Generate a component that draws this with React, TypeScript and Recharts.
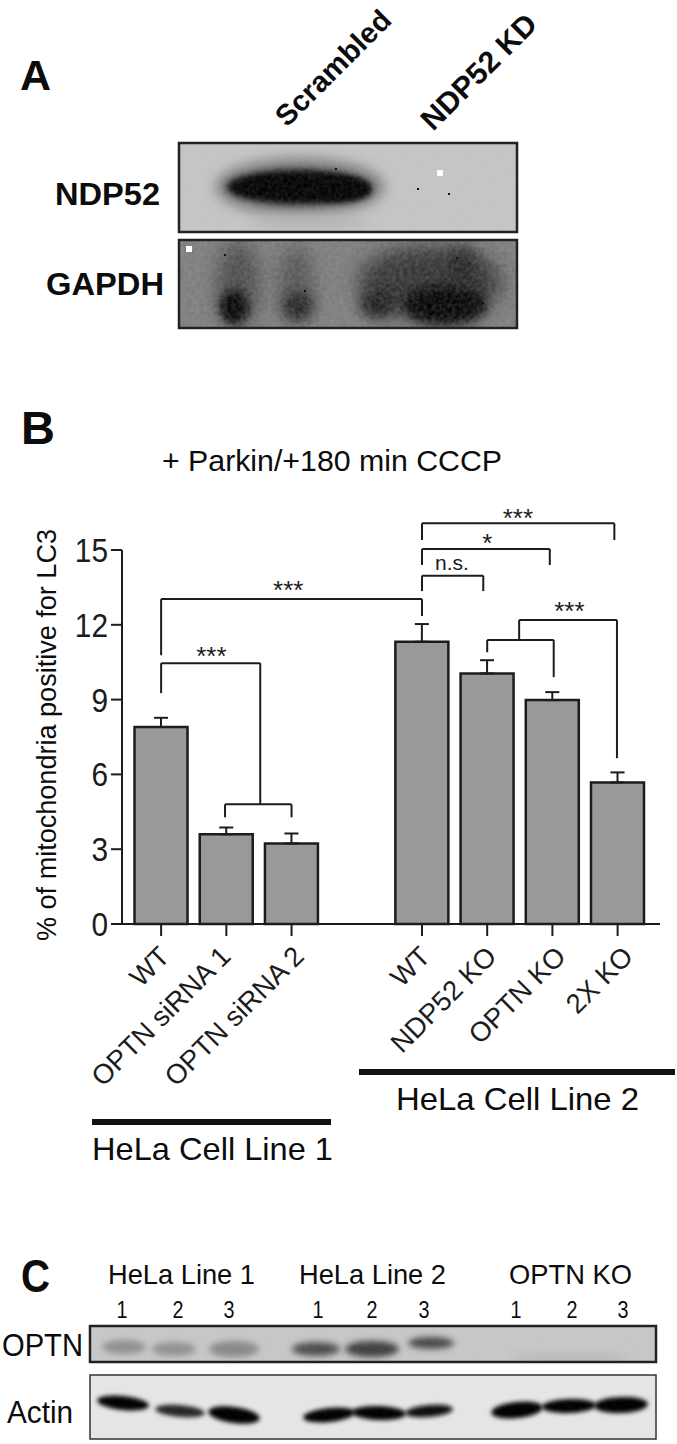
import React from 'react';
import { BarChart, Bar, XAxis, YAxis, ErrorBar, ReferenceLine, ReferenceDot } from 'recharts';

const FONT = '"Liberation Sans", Arial, sans-serif';
const INK = '#1c1c1c';

// bar chart values
const positions = [0, 1, 2, 4, 5, 6, 7];
const labels = ['WT', 'OPTN siRNA 1', 'OPTN siRNA 2', 'WT', 'NDP52 KO', 'OPTN KO', '2X KO'];
const means = [7.9, 3.6, 3.23, 11.32, 10.05, 8.98, 5.68];
const errors = [0.37, 0.27, 0.4, 0.71, 0.53, 0.32, 0.4];
const yTicks = [0, 3, 6, 9, 12, 15];

// significance brackets as [position, value] paths
const brackets: [number, number][][] = [
  [[0, 10.78], [0, 13.03], [4, 13.03], [4, 12.35]],
  [[0, 9.26], [0, 10.46], [1.52, 10.46], [1.52, 4.8]],
  [[0.98, 4.28], [0.98, 4.8], [2, 4.8], [2, 4.28]],
  [[4, 13.35], [4, 13.97], [4.94, 13.97], [4.94, 13.35]],
  [[4, 14.4], [4, 15.04], [5.96, 15.04], [5.96, 14.4]],
  [[4, 15.4], [4, 16.07], [6.95, 16.07], [6.95, 15.4]],
  [[5, 10.9], [5, 11.39], [6.02, 11.39], [6.02, 9.9]],
  [[5.49, 11.39], [5.49, 12.19], [6.99, 12.19], [6.99, 6.65]],
];

const marks: [number, number, string][] = [
  [1.95, 13.4, '***'],
  [0.77, 10.75, '***'],
  [5.47, 16.3, '***'],
  [5.0, 15.3, '*'],
  [4.46, 14.5, 'n.s.'],
  [6.26, 12.55, '***'],
];

const chartData = positions.map((pos, i) => ({
  pos,
  mean: means[i],
  err: [0, errors[i]],
}));

// the rotated labels do not all end at the same distance from their tick
const labelShift = [10, 6, 14, 10, 11, 15, 17];

const XTick = ({ x, y, payload }: any) => {
  const i = positions.indexOf(payload.value);
  const px = x + labelShift[i];
  const py = y + 20;
  return (
    <text
      x={px}
      y={py}
      textAnchor="end"
      fontSize={27.5}
      fontFamily={FONT}
      fill={INK}
      transform={`rotate(-45 ${px} ${py})`}
    >
      {labels[i]}
    </text>
  );
};

const YTick = ({ x, y, payload }: any) => {
  const s = String(payload.value);
  return (
    <text
      x={x}
      y={y}
      dy={12}
      textAnchor="end"
      fontSize={33}
      fontFamily={FONT}
      fill={INK}
      textLength={s.length * 16.6}
      lengthAdjust="spacingAndGlyphs"
    >
      {s}
    </text>
  );
};

type Band = { x: number; y: number; rx: number; ry: number; c: string; b?: number; r?: number };

const ndpBands: Band[] = [
  { x: 300, y: 187, rx: 84, ry: 28, c: '#707070', b: 7 },
  { x: 298, y: 187, rx: 71, ry: 17, c: '#000', b: 3 },
  { x: 340, y: 190, rx: 32, ry: 12, c: '#000', b: 3 },
  { x: 310, y: 222, rx: 60, ry: 6, c: '#b4b4b4', b: 5 },
];
const gapdhBands: Band[] = [
  { x: 238, y: 285, rx: 22, ry: 44, c: '#4c4c4c', b: 9 },
  { x: 234, y: 307, rx: 14, ry: 17, c: '#050505', b: 5 },
  { x: 296, y: 285, rx: 18, ry: 40, c: '#555', b: 9 },
  { x: 298, y: 306, rx: 15, ry: 14, c: '#222', b: 6 },
  { x: 430, y: 282, rx: 72, ry: 36, c: '#333', b: 10 },
  { x: 378, y: 304, rx: 18, ry: 14, c: '#1c1c1c', b: 6 },
  { x: 445, y: 305, rx: 42, ry: 20, c: '#040404', b: 6 },
  { x: 462, y: 268, rx: 14, ry: 20, c: '#222', b: 7 },
];
const optnBands: Band[] = [
  { x: 124, y: 1347, rx: 22, ry: 7, c: '#8f8f8f', b: 3 },
  { x: 174, y: 1349, rx: 22, ry: 7, c: '#909090', b: 3 },
  { x: 234, y: 1349, rx: 25, ry: 8, c: '#888', b: 3 },
  { x: 316, y: 1349, rx: 24, ry: 7, c: '#4c4c4c', b: 3 },
  { x: 372, y: 1349, rx: 27, ry: 8, c: '#3c3c3c', b: 3 },
  { x: 431, y: 1343, rx: 23, ry: 6, c: '#444', b: 2.5 },
  { x: 570, y: 1358, rx: 60, ry: 4, c: '#b4b4b4', b: 4 },
];
const actinBands: Band[] = [
  { x: 123, y: 1403, rx: 26, ry: 7, c: '#060606', b: 2, r: 6 },
  { x: 180, y: 1411, rx: 25, ry: 6, c: '#262626', b: 2, r: 5 },
  { x: 234, y: 1415, rx: 26, ry: 8, c: '#040404', b: 2, r: 8 },
  { x: 329, y: 1415, rx: 26, ry: 7, c: '#040404', b: 2, r: -6 },
  { x: 379, y: 1413, rx: 27, ry: 7, c: '#040404', b: 2, r: 2 },
  { x: 429, y: 1411, rx: 24, ry: 6, c: '#0a0a0a', b: 2, r: -5 },
  { x: 517, y: 1410, rx: 26, ry: 8, c: '#030303', b: 2, r: -6 },
  { x: 569, y: 1406, rx: 27, ry: 7, c: '#030303', b: 2, r: -2 },
  { x: 621, y: 1405, rx: 27, ry: 8, c: '#030303', b: 2, r: -2 },
];

const Blot = ({ id, x, y, w, h, bg, stroke, sw, bands, specks = [], noise = 0.14 }: any) => (
  <g>
    <clipPath id={id}>
      <rect x={x} y={y} width={w} height={h} />
    </clipPath>
    <g clipPath={`url(#${id})`}>
      <rect x={x} y={y} width={w} height={h} fill={bg} />
      {bands.map((b: Band, i: number) => (
        <ellipse
          key={i}
          cx={b.x}
          cy={b.y}
          rx={b.rx}
          ry={b.ry}
          fill={b.c}
          transform={b.r ? `rotate(${b.r} ${b.x} ${b.y})` : undefined}
          filter={`url(#blur${Math.round(b.b ?? 3)})`}
        />
      ))}
      <rect x={x} y={y} width={w} height={h} filter="url(#grain)" opacity={noise} />
      {specks.map((s: number[], i: number) => (
        <rect key={i} x={s[0]} y={s[1]} width={s[2]} height={s[2]} fill={s[3] ? '#fff' : '#111'} />
      ))}
    </g>
    <rect x={x} y={y} width={w} height={h} fill="none" stroke={stroke} strokeWidth={sw} />
  </g>
);

const Txt = ({ children, ...rest }: any) => (
  <text fontFamily={FONT} fill="#0c0c0c" lengthAdjust="spacingAndGlyphs" {...rest}>
    {children}
  </text>
);

export default function App(): JSX.Element {
  return (
    <div style={{ position: 'absolute', left: 0, top: 0, width: 677, height: 1444, background: '#fff', overflow: 'hidden' }}>
      <div style={{ position: 'absolute', left: 0, top: 0 }}>
        <BarChart
          width={677}
          height={1200}
          data={chartData}
          margin={{ top: 550, right: 17, bottom: 0, left: 0 }}
          barSize={53}
        >
          <XAxis
            dataKey="pos"
            type="number"
            domain={[-0.6, 7.65]}
            ticks={positions}
            interval={0}
            height={276}
            tickSize={12}
            tick={<XTick />}
            axisLine={{ stroke: INK, strokeWidth: 2 }}
            tickLine={{ stroke: INK, strokeWidth: 2 }}
          />
          <YAxis
            type="number"
            domain={[0, 15]}
            ticks={yTicks}
            width={122}
            tickSize={11}
            tickMargin={3}
            tick={<YTick />}
            axisLine={{ stroke: INK, strokeWidth: 2 }}
            tickLine={{ stroke: INK, strokeWidth: 2 }}
          />
          <Bar dataKey="mean" fill="#999999" stroke={INK} strokeWidth={2.5} isAnimationActive={false}>
            <ErrorBar dataKey="err" direction="y" width={7} stroke={INK} strokeWidth={2} isAnimationActive={false} />
          </Bar>
          {brackets.flatMap((path, i) =>
            path.slice(1).map((pt, j) => (
              <ReferenceLine
                key={`${i}-${j}`}
                ifOverflow="visible"
                stroke={INK}
                strokeWidth={2}
                segment={[
                  { x: path[j][0], y: path[j][1] },
                  { x: pt[0], y: pt[1] },
                ]}
              />
            ))
          )}
          {marks.map(([x, y, text], i) => (
            <ReferenceDot
              key={i}
              x={x}
              y={y}
              r={0}
              ifOverflow="visible"
              stroke="none"
              label={{
                value: text,
                position: 'center',
                fontSize: text === 'n.s.' ? 21 : 26,
                fontFamily: FONT,
                fill: INK,
              }}
            />
          ))}
        </BarChart>
      </div>

      <svg width={677} height={1444} style={{ position: 'absolute', left: 0, top: 0, pointerEvents: 'none' }}>
        <defs>
          {[2, 3, 4, 5, 6, 7, 9, 10].map((b) => (
            <filter key={b} id={`blur${b}`} x="-50%" y="-80%" width="200%" height="260%">
              <feGaussianBlur stdDeviation={b} />
            </filter>
          ))}
          <filter id="grain" x="0" y="0" width="100%" height="100%">
            <feTurbulence type="fractalNoise" baseFrequency="0.25" numOctaves={2} seed={4} />
            <feColorMatrix values="0 0 0 0 0.5  0 0 0 0 0.5  0 0 0 0 0.5  1.6 0 0 0 -0.3" />
          </filter>
        </defs>

        {/* panel A */}
        <Txt x={20} y={90} fontSize={43} fontWeight="bold">A</Txt>
        <Txt x={0} y={0} fontSize={29} fontWeight="bold" textLength={150} transform="translate(287 128) rotate(-45)">Scrambled</Txt>
        <Txt x={0} y={0} fontSize={30} fontWeight="bold" textLength={150} transform="translate(433 132) rotate(-45)">NDP52 KD</Txt>
        <Txt x={55} y={205} fontSize={32} fontWeight="bold" textLength={105}>NDP52</Txt>
        <Txt x={46} y={295} fontSize={32} fontWeight="bold" textLength={118}>GAPDH</Txt>
        <Blot
          id="a1"
          x={179}
          y={143}
          w={338}
          h={89}
          bg="#c6c6c6"
          stroke="#222"
          sw={2.5}
          bands={ndpBands}
          specks={[[437, 170, 6, 1], [335, 168, 2, 0], [417, 188, 2, 0], [448, 193, 2, 0]]}
        />
        <Blot
          id="a2"
          x={179}
          y={240}
          w={338}
          h={88}
          bg="#7c7c7c"
          stroke="#222"
          sw={2.5}
          noise={0.22}
          bands={gapdhBands}
          specks={[[186, 246, 6, 1], [224, 254, 2, 0], [304, 290, 2, 0], [482, 302, 2, 0], [456, 257, 2, 0]]}
        />

        {/* panel B */}
        <Txt x={21} y={444} fontSize={47} fontWeight="bold">B</Txt>
        <Txt x={162} y={471} fontSize={30} textLength={340}>+ Parkin/+180 min CCCP</Txt>
        <Txt x={0} y={0} fontSize={27} textLength={412} transform="translate(56 941) rotate(-90)">
          % of mitochondria positive for LC3
        </Txt>
        <rect x={359} y={1069} width={316} height={6} fill="#111" />
        <Txt x={396} y={1110} fontSize={32} textLength={243}>HeLa Cell Line 2</Txt>
        <rect x={92} y={1119} width={239} height={6} fill="#111" />
        <Txt x={92} y={1160} fontSize={32} textLength={241}>HeLa Cell Line 1</Txt>

        {/* panel C */}
        <Txt x={21} y={1292} fontSize={47} fontWeight="bold" textLength={29}>C</Txt>
        <Txt x={108} y={1284} fontSize={28} textLength={147}>HeLa Line 1</Txt>
        <Txt x={299} y={1284} fontSize={28} textLength={147}>HeLa Line 2</Txt>
        <Txt x={509} y={1284} fontSize={28} textLength={123}>OPTN KO</Txt>
        {[122, 178, 229, 318, 372, 424, 516, 572, 623].map((x, i) => (
          <Txt key={i} x={x} y={1318} fontSize={23} textAnchor="middle" textLength={11}>
            {['1', '2', '3'][i % 3]}
          </Txt>
        ))}
        <Txt x={2} y={1356} fontSize={31} textLength={81}>OPTN</Txt>
        <Txt x={7} y={1423} fontSize={31} textLength={66}>Actin</Txt>
        <Blot id="c1" x={90} y={1326} w={566} h={36} bg="#c8c8c8" stroke="#222" sw={2.5} noise={0.08} bands={optnBands} />
        <Blot id="c2" x={90} y={1375} w={566} h={64} bg="#e6e6e6" stroke="#333" sw={1.5} noise={0.03} bands={actinBands} />
      </svg>
    </div>
  );
}
